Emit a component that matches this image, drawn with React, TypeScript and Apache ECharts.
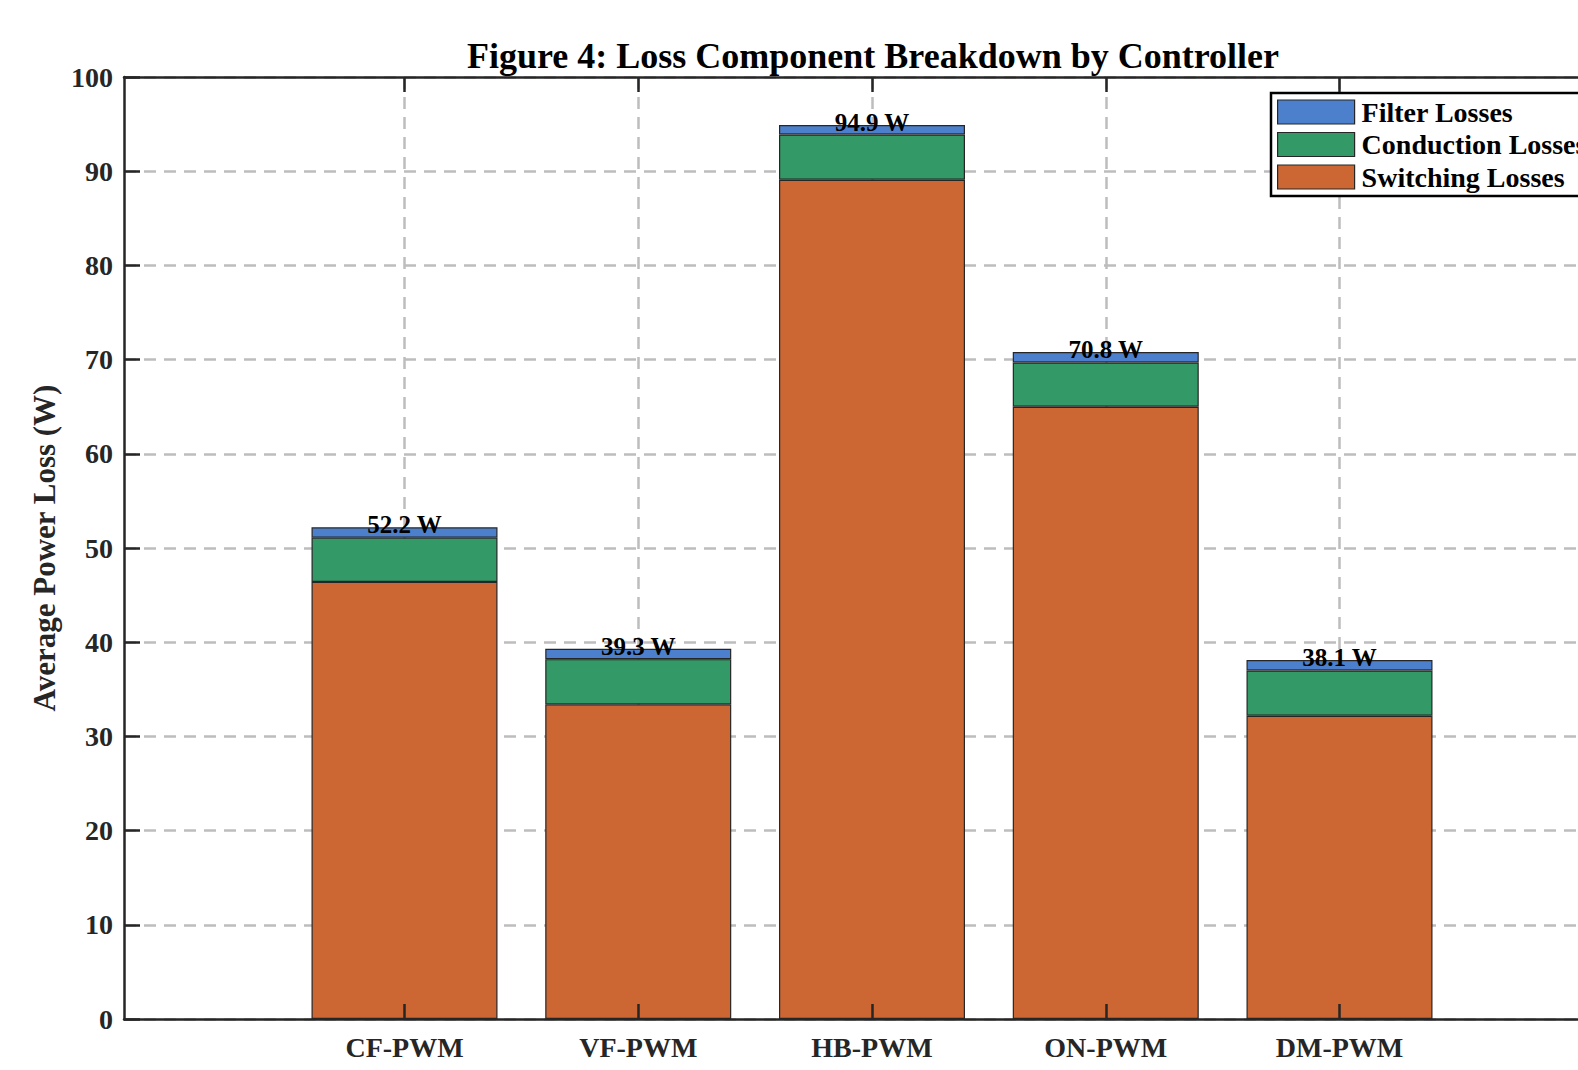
import React, { useEffect, useRef } from "react";
import * as echarts from "echarts";

const categories = ["CF-PWM", "VF-PWM", "HB-PWM", "ON-PWM", "DM-PWM"];
const switchingLosses = [46.4, 33.4, 89.1, 65.0, 32.2];
const conductionLosses = [4.7, 4.8, 4.8, 4.7, 4.8];
const filterLosses = [1.1, 1.1, 1.0, 1.1, 1.1];
const totalLabels = ["52.2 W", "39.3 W", "94.9 W", "70.8 W", "38.1 W"];
const yTicks = [0, 10, 20, 30, 40, 50, 60, 70, 80, 90, 100];

const FONT = "'Liberation Serif', 'Times New Roman', serif";
const AXIS_COLOR = "#262626";
const GRID_COLOR = "#bdbdbd";

// fine category slots: the axis spans 32 sub-steps, the bars sit at every 5th step starting at 6
const SLOTS = 33;
const slotIndex = categories.map((_, i) => 6 + i * 5);
const axisCats = Array.from({ length: SLOTS }, (_, k) => {
  const i = slotIndex.indexOf(k);
  return i >= 0 ? categories[i] : "s" + k;
});
const isCat = (idx: number) => slotIndex.includes(idx);

export default function App() {
  const ref = useRef<HTMLDivElement>(null);
  useEffect(() => {
    document.body.style.margin = "0";
    const chart = echarts.init(ref.current!, null, { renderer: "svg" });
    const mk = (vals: number[]) =>
      Array.from({ length: SLOTS }, (_, k) => {
        const i = slotIndex.indexOf(k);
        return i >= 0 ? vals[i] : "-";
      });
    const barCommon = {
      type: "bar",
      stack: "loss",
      barWidth: 186,
      xAxisIndex: 1,
      yAxisIndex: 0,
    };
    const xBase = { type: "category", data: axisCats, boundaryGap: false };
    const tickInterval = (idx: number) => isCat(idx);
    chart.setOption({
      animation: false,
      textStyle: { fontFamily: FONT },
      title: {
        text: "Figure 4: Loss Component Breakdown by Controller",
        left: 868,
        top: 33,
        textAlign: "center",
        textStyle: { fontFamily: FONT, fontSize: 36, fontWeight: "bold", color: "#000" },
      },
      grid: { left: 124, top: 77, width: 1496, height: 942 },
      legend: {
        orient: "vertical",
        left: 1271,
        top: 93,
        padding: [5, 8, 5, 6],
        itemWidth: 77,
        itemHeight: 24,
        itemGap: 4.5,
        icon: "rect",
        borderColor: "#000",
        borderWidth: 2.5,
        borderRadius: 0,
        backgroundColor: "#fff",
        data: ["Filter Losses", "Conduction Losses", "Switching Losses"],
        textStyle: { fontFamily: FONT, fontSize: 28, fontWeight: "bold", color: "#000", padding: [0, 0, 0, 2] },
        itemStyle: { borderColor: "#262626", borderWidth: 1.2 },
        selectedMode: false,
      },
      xAxis: [
        {
          ...xBase,
          position: "bottom",
          axisLine: { show: false },
          axisTick: { show: false },
          axisLabel: { show: false },
          splitLine: { show: true, interval: tickInterval, lineStyle: { color: GRID_COLOR, width: 2.5, type: [12, 8] } },
          z: 0,
        },
        {
          ...xBase,
          position: "bottom",
          axisLine: { show: true, onZero: false, lineStyle: { color: AXIS_COLOR, width: 2.5 } },
          axisTick: { show: true, inside: true, length: 15, interval: tickInterval, lineStyle: { color: AXIS_COLOR, width: 2.5 } },
          axisLabel: {
            show: true,
            interval: tickInterval,
            margin: 14,
            fontFamily: FONT,
            fontSize: 28,
            fontWeight: "bold",
            color: AXIS_COLOR,
          },
          splitLine: { show: false },
          z: 10,
        },
        {
          ...xBase,
          position: "top",
          axisLine: { show: true, onZero: false, lineStyle: { color: AXIS_COLOR, width: 2.5 } },
          axisTick: { show: true, inside: true, length: 15, interval: tickInterval, lineStyle: { color: AXIS_COLOR, width: 2.5 } },
          axisLabel: { show: false },
          splitLine: { show: false },
          z: 10,
        },
      ],
      yAxis: [
        {
          type: "value",
          min: 0,
          max: 100,
          interval: 10,
          name: "Average Power Loss (W)",
          nameLocation: "middle",
          nameGap: 56,
          nameTextStyle: { fontFamily: FONT, fontSize: 31, fontWeight: "bold", color: AXIS_COLOR },
          axisLine: { show: true, onZero: false, lineStyle: { color: AXIS_COLOR, width: 2.5 } },
          axisTick: { show: true, inside: true, length: 16, lineStyle: { color: AXIS_COLOR, width: 2.5 } },
          axisLabel: {
            margin: 11,
            fontFamily: FONT,
            fontSize: 28,
            fontWeight: "bold",
            color: AXIS_COLOR,
            formatter: (v: number) => (yTicks.includes(v) ? String(v) : ""),
          },
          splitLine: { show: true, lineStyle: { color: GRID_COLOR, width: 2.5, type: [12, 8] } },
        },
      ],
      series: [
        {
          ...barCommon,
          name: "Switching Losses",
          data: mk(switchingLosses),
          itemStyle: { color: "#cc6633", borderColor: "#262626", borderWidth: 1.2 },
        },
        {
          ...barCommon,
          name: "Conduction Losses",
          data: mk(conductionLosses),
          itemStyle: { color: "#339966", borderColor: "#262626", borderWidth: 1.2 },
        },
        {
          ...barCommon,
          name: "Filter Losses",
          data: mk(filterLosses),
          itemStyle: { color: "#4d80cc", borderColor: "#262626", borderWidth: 1.2 },
          label: {
            show: true,
            position: "top",
            distance: -10,
            fontFamily: FONT,
            fontSize: 25,
            fontWeight: "bold",
            color: "#000",
            formatter: (p: any) => totalLabels[slotIndex.indexOf(p.dataIndex)] ?? "",
          },
        },
      ],
    });
    return () => chart.dispose();
  }, []);
  return (
    <div style={{ width: 1578, height: 1070, overflow: "hidden", position: "relative" }}>
      <div ref={ref} style={{ width: 1660, height: 1070 }} />
    </div>
  );
}
